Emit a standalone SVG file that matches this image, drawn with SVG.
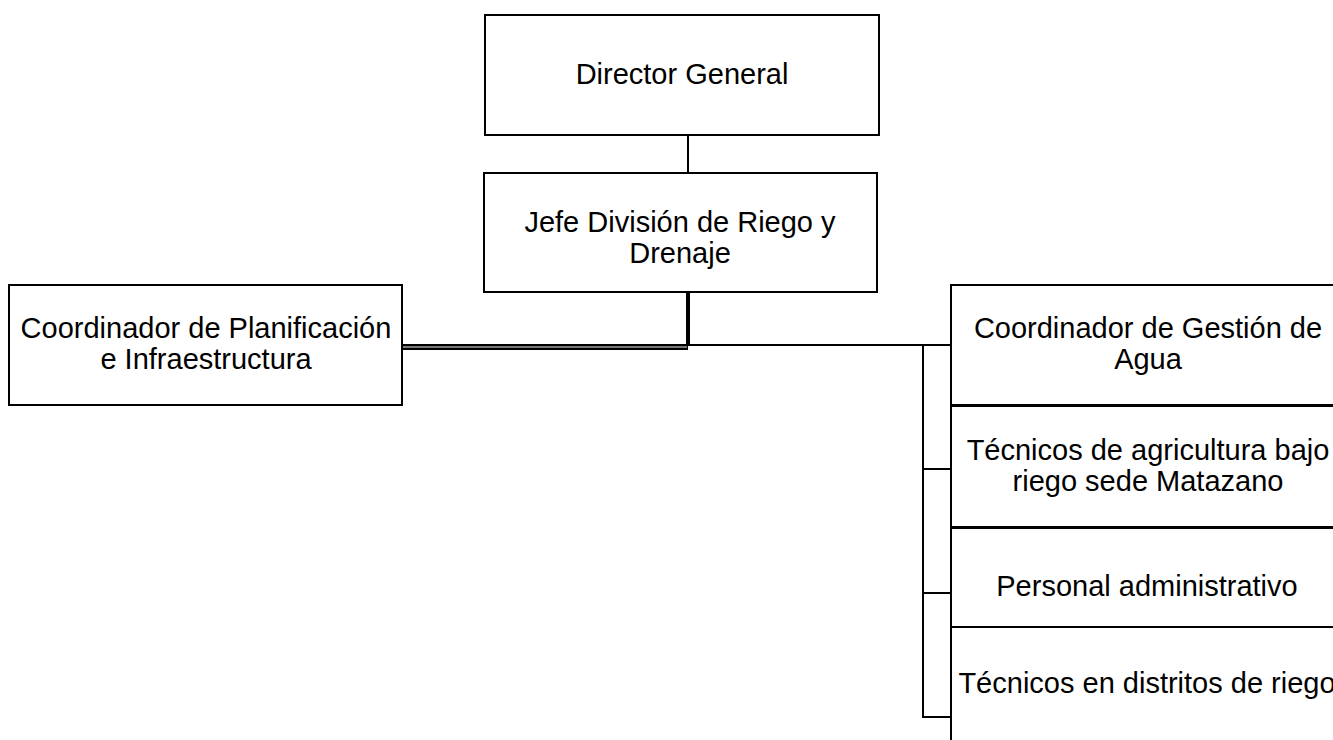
<svg xmlns="http://www.w3.org/2000/svg" width="1333" height="740" viewBox="0 0 1333 740">
<style>
.box{fill:#fff;stroke:#000;stroke-width:2}
.t{font-family:"Liberation Sans",Arial,sans-serif;font-size:29px;fill:#000;text-anchor:middle}
.c{fill:none;stroke:#000;stroke-width:2}
</style>
<rect width="1333" height="740" fill="#fff"/>
<g id="connectors">
<line class="c" x1="688" y1="135" x2="688" y2="173"/>
<polyline class="c" points="687,292 687,349 402,349"/>
<polyline class="c" points="689,292 689,345 402,345"/>
<line x1="402" y1="347" x2="687" y2="347" stroke="#777" stroke-width="2"/>
<polyline class="c" points="689,345 923,345 951,345"/>
<line class="c" x1="923" y1="345" x2="923" y2="717"/>
<line class="c" x1="922" y1="469" x2="951" y2="469"/>
<line class="c" x1="922" y1="593" x2="951" y2="593"/>
<line class="c" x1="922" y1="717" x2="951" y2="717"/>
</g>
<g id="director">
<rect class="box" x="485" y="15" width="394" height="120"/>
<text class="t" x="682" y="84">Director General</text>
</g>
<g id="jefe">
<rect class="box" x="484" y="173" width="393" height="119"/>
<text class="t" x="680" y="232">Jefe División de Riego y</text>
<text class="t" x="680" y="263">Drenaje</text>
</g>
<g id="planificacion">
<rect class="box" x="9" y="285" width="393" height="120"/>
<text class="t" x="206" y="338">Coordinador de Planificación</text>
<text class="t" x="206" y="369">e Infraestructura</text>
</g>
<g id="gestion">
<rect class="box" x="951" y="285" width="394" height="120"/>
<text class="t" x="1148" y="338">Coordinador de Gestión de</text>
<text class="t" x="1148" y="369">Agua</text>
</g>
<g id="tecnicos-matazano">
<rect class="box" x="951" y="406" width="394" height="121"/>
<text class="t" x="1148" y="460">Técnicos de agricultura bajo</text>
<text class="t" x="1148" y="491">riego sede Matazano</text>
</g>
<g id="personal">
<rect class="box" x="951" y="528" width="394" height="99"/>
<text class="t" x="1147" y="596">Personal administrativo</text>
</g>
<g id="tecnicos-distritos">
<rect class="box" x="951" y="627" width="394" height="130"/>
<text class="t" x="1147" y="693">Técnicos en distritos de riego</text>
</g>
</svg>
